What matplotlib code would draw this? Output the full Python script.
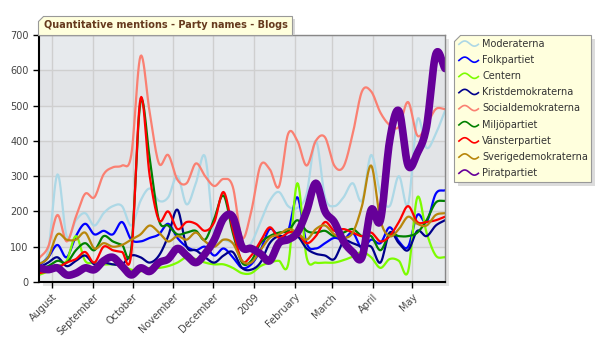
import numpy as np
import pandas as pd
import matplotlib
matplotlib.use("Agg")
import matplotlib.pyplot as plt
import matplotlib.dates as mdates
from matplotlib.lines import Line2D
from matplotlib.patches import Polygon
from matplotlib.legend_handler import HandlerBase

# weekly data points, Jul 22 2008 .. May 26 2009
dates = pd.date_range("2008-07-22", periods=45, freq="7D")

moderaterna = [50, 90, 305, 130, 175, 195, 160, 195, 215, 215, 160, 230,
               265, 230, 240, 300, 220, 280, 355, 130, 120, 110,
               90, 110, 170, 230, 255, 215, 210, 250, 400, 240, 215,
               240, 280, 230, 360, 250, 215, 300, 220, 460, 380, 420, 485]
folkpartiet = [45, 70, 105, 70, 130, 165, 135, 145, 135, 170, 120, 115,
               125, 135, 165, 125, 100, 90, 100, 75, 95, 70,
               40, 50, 90, 150, 130, 145, 240, 110, 95, 110, 125,
               120, 140, 95, 120, 110, 155, 115, 100, 190, 170, 250, 260]
centern = [20, 30, 45, 60, 130, 60, 55, 50, 50, 45, 35, 30,
           40, 40, 45, 55, 70, 65, 55, 50, 50, 40,
           25, 25, 45, 55, 60, 50, 280, 70, 55, 55, 55,
           62, 72, 85, 70, 40, 65, 60, 30, 240, 140, 75, 70]
kristdemokraterna = [40, 55, 70, 45, 60, 75, 50, 55, 50, 50, 75, 70,
                     55, 75, 130, 205, 100, 90, 70, 55, 75, 85,
                     40, 35, 55, 110, 130, 125, 130, 95, 80, 75, 65,
                     115, 110, 100, 100, 55, 140, 110, 90, 145, 130, 160, 175]
socialdemokraterna = [67, 100, 190, 115, 185, 250, 240, 305, 325, 330, 360, 640,
                      480, 336, 360, 290, 280, 336, 300, 272, 292, 270,
                      125, 200, 330, 320, 270, 420, 400, 330, 400, 410, 330,
                      327, 420, 540, 540, 480, 445, 440, 510, 415, 445, 490, 490]
miljopartiet = [35, 45, 60, 55, 90, 110, 90, 130, 115, 105, 95, 510,
                350, 175, 160, 135, 140, 145, 120, 180, 245, 140,
                55, 60, 110, 130, 140, 145, 175, 145, 140, 145, 130,
                140, 150, 130, 130, 90, 135, 130, 130, 140, 175, 225, 230]
vansterpartiet = [25, 30, 40, 55, 65, 85, 55, 100, 90, 85, 80, 520,
                  300, 175, 200, 150, 170, 165, 145, 170, 255, 150,
                  60, 75, 115, 155, 125, 140, 140, 110, 130, 170, 145,
                  150, 140, 130, 140, 115, 130, 170, 215, 170, 170, 175, 185]
sverigedemokraterna = [50, 70, 135, 120, 120, 140, 95, 110, 100, 105, 120, 135,
                       160, 140, 115, 130, 120, 140, 115, 100, 120, 110,
                       60, 55, 90, 125, 135, 150, 140, 120, 150, 160, 135,
                       125, 140, 215, 330, 175, 130, 150, 185, 165, 160, 190, 195]
piratpartiet = [40, 35, 40, 20, 25, 40, 35, 60, 70, 45, 20, 40,
                30, 55, 65, 95, 75, 55, 80, 120, 180, 185,
                100, 95, 80, 60, 110, 120, 140, 200, 280, 200, 170,
                115, 85, 70, 205, 175, 400, 485, 330, 365, 440, 645, 605]

series_names = ["Moderaterna", "Folkpartiet", "Centern", "Kristdemokraterna",
                "Socialdemokraterna", "Miljöpartiet", "Vänsterpartiet",
                "Sverigedemokraterna", "Piratpartiet"]
series_values = [moderaterna, folkpartiet, centern, kristdemokraterna,
                 socialdemokraterna, miljopartiet, vansterpartiet,
                 sverigedemokraterna, piratpartiet]
series_colors = ["#add8e6", "#0000ff", "#7cfc00", "#00008b", "#fa8072",
                 "#008000", "#ff0000", "#b8860b", "#660099"]
series_widths = [1.6] * 8 + [5.5]

tick_dates = pd.date_range("2008-08-01", "2009-05-01", freq="MS")
tick_labels = ["August", "September", "October", "November", "December",
               "2009", "February", "March", "April", "May"]


def smooth(x, y, n=12):
    # Catmull-Rom spline through the weekly points
    x = np.asarray(x, float)
    y = np.asarray(y, float)
    t = np.linspace(0, 1, n, endpoint=False)[:, None]

    def curve(p):
        p = np.concatenate([[2 * p[0] - p[1]], p, [2 * p[-1] - p[-2]]])
        p0, p1, p2, p3 = p[:-3], p[1:-2], p[2:-1], p[3:]
        c = 0.5 * (2 * p1 + (-p0 + p2) * t + (2 * p0 - 5 * p1 + 4 * p2 - p3) * t ** 2
                   + (-p0 + 3 * p1 - 3 * p2 + p3) * t ** 3)
        return np.append(c.T.ravel(), p[-2])

    return curve(x), curve(y)


class WaveHandler(HandlerBase):
    def create_artists(self, legend, orig_handle, xdescent, ydescent,
                       width, height, fontsize, trans):
        u = np.linspace(0, 1, 25)
        xs = u * width - xdescent
        ys = height / 2 - ydescent + height * 0.32 * np.sin(2 * np.pi * u - 0.3)
        ln = Line2D(xs, ys, color=orig_handle.get_color(), lw=1.2,
                    transform=trans)
        return [ln]


W, H = 600, 350
fig = plt.figure(figsize=(6, 3.5), dpi=100)
fig.patch.set_facecolor("white")

x0, x1, ytop, ybot = 39, 445, 35, 282
ax = fig.add_axes([x0 / W, 1 - ybot / H, (x1 - x0) / W, (ybot - ytop) / H])


def fig_poly(pts, **kw):
    p = Polygon([(px / W, 1 - py / H) for px, py in pts], closed=True,
                transform=fig.transFigure, **kw)
    fig.add_artist(p)
    return p


# plot area shadow
fig_poly([(x0 + 4, ytop + 4), (x1 + 4, ytop + 4), (x1 + 4, ybot + 4), (x0 + 4, ybot + 4)],
         facecolor="#e4e4e4", edgecolor="none", zorder=-5)

# alternating horizontal bands
ax.set_facecolor("#e6e9ec")
for k in range(7):
    ax.axhspan(k * 100, (k + 1) * 100, color="#e7eaed" if k % 2 == 0 else "#e2e4e7",
               zorder=0, lw=0)

xd = mdates.date2num(dates)
handles = []
for name, vals, col, lw in zip(series_names, series_values, series_colors, series_widths):
    sx, sy = smooth(xd, vals)
    ln, = ax.plot(sx, sy, color=col, lw=lw, label=name, solid_capstyle="round")
    handles.append(ln)

ax.set_xlim(xd[0], xd[-1])
ax.set_ylim(0, 700)
ax.set_yticks(np.arange(0, 701, 100))
ax.set_xticks(mdates.date2num(tick_dates))
ax.set_xticklabels(tick_labels, rotation=45, ha="right", rotation_mode="anchor")
ax.set_axisbelow(True)
ax.grid(True, color="#cfcfcf", lw=1)
ax.tick_params(direction="out", length=4, width=1, color="black",
               labelcolor="#444444", labelsize=7)
ax.tick_params(axis="x", pad=3)
for s in ["left", "bottom"]:
    ax.spines[s].set_color("black")
    ax.spines[s].set_linewidth(1.5)
for s in ["top", "right"]:
    ax.spines[s].set_color("#888888")
    ax.spines[s].set_linewidth(1)

# title box with clipped corner
tx0, tx1, ty0, ty1 = 38, 292, 16, 35
fig_poly([(tx0 + 3, ty0 + 3), (tx1 + 3, ty0 + 3), (tx1 + 3, ty1), (tx0 + 3, ty1)],
         facecolor="#d8d8d8", edgecolor="none", zorder=4)
fig_poly([(tx0 + 5, ty0), (tx1, ty0), (tx1, ty1), (tx0, ty1), (tx0, ty0 + 5)],
         facecolor="#ffffdd", edgecolor="#999999", lw=0.8, zorder=5)
fig.text((tx0 + 6) / W, 1 - (ty0 + ty1) / 2 / H, "Quantitative mentions - Party names - Blogs",
         fontsize=7, fontweight="bold", color="#663a1e", va="center", ha="left", zorder=6)

# legend box
lx0, lx1, ly0, ly1 = 454, 591, 35, 182
fig_poly([(lx0 + 4, ly0 + 4), (lx1 + 4, ly0 + 4), (lx1 + 4, ly1 + 4), (lx0 + 4, ly1 + 4)],
         facecolor="#dcdcdc", edgecolor="none", zorder=4)
fig_poly([(lx0 + 6, ly0), (lx1, ly0), (lx1, ly1), (lx0, ly1), (lx0, ly0 + 6)],
         facecolor="#ffffdd", edgecolor="#999999", lw=0.8, zorder=5)
leg = fig.legend(handles=handles, labels=series_names, loc="upper left",
                 bbox_to_anchor=((lx0 + 2) / W, 1 - (ly0 + 1) / H),
                 frameon=False, fontsize=7, handlelength=2.0, handleheight=0.9,
                 handletextpad=0.4, labelspacing=0.63, borderaxespad=0,
                 borderpad=0.3, handler_map={Line2D: WaveHandler()})
leg.set_zorder(7)
for t in leg.get_texts():
    t.set_color("#333333")

fig.savefig("out.png", dpi=100)
